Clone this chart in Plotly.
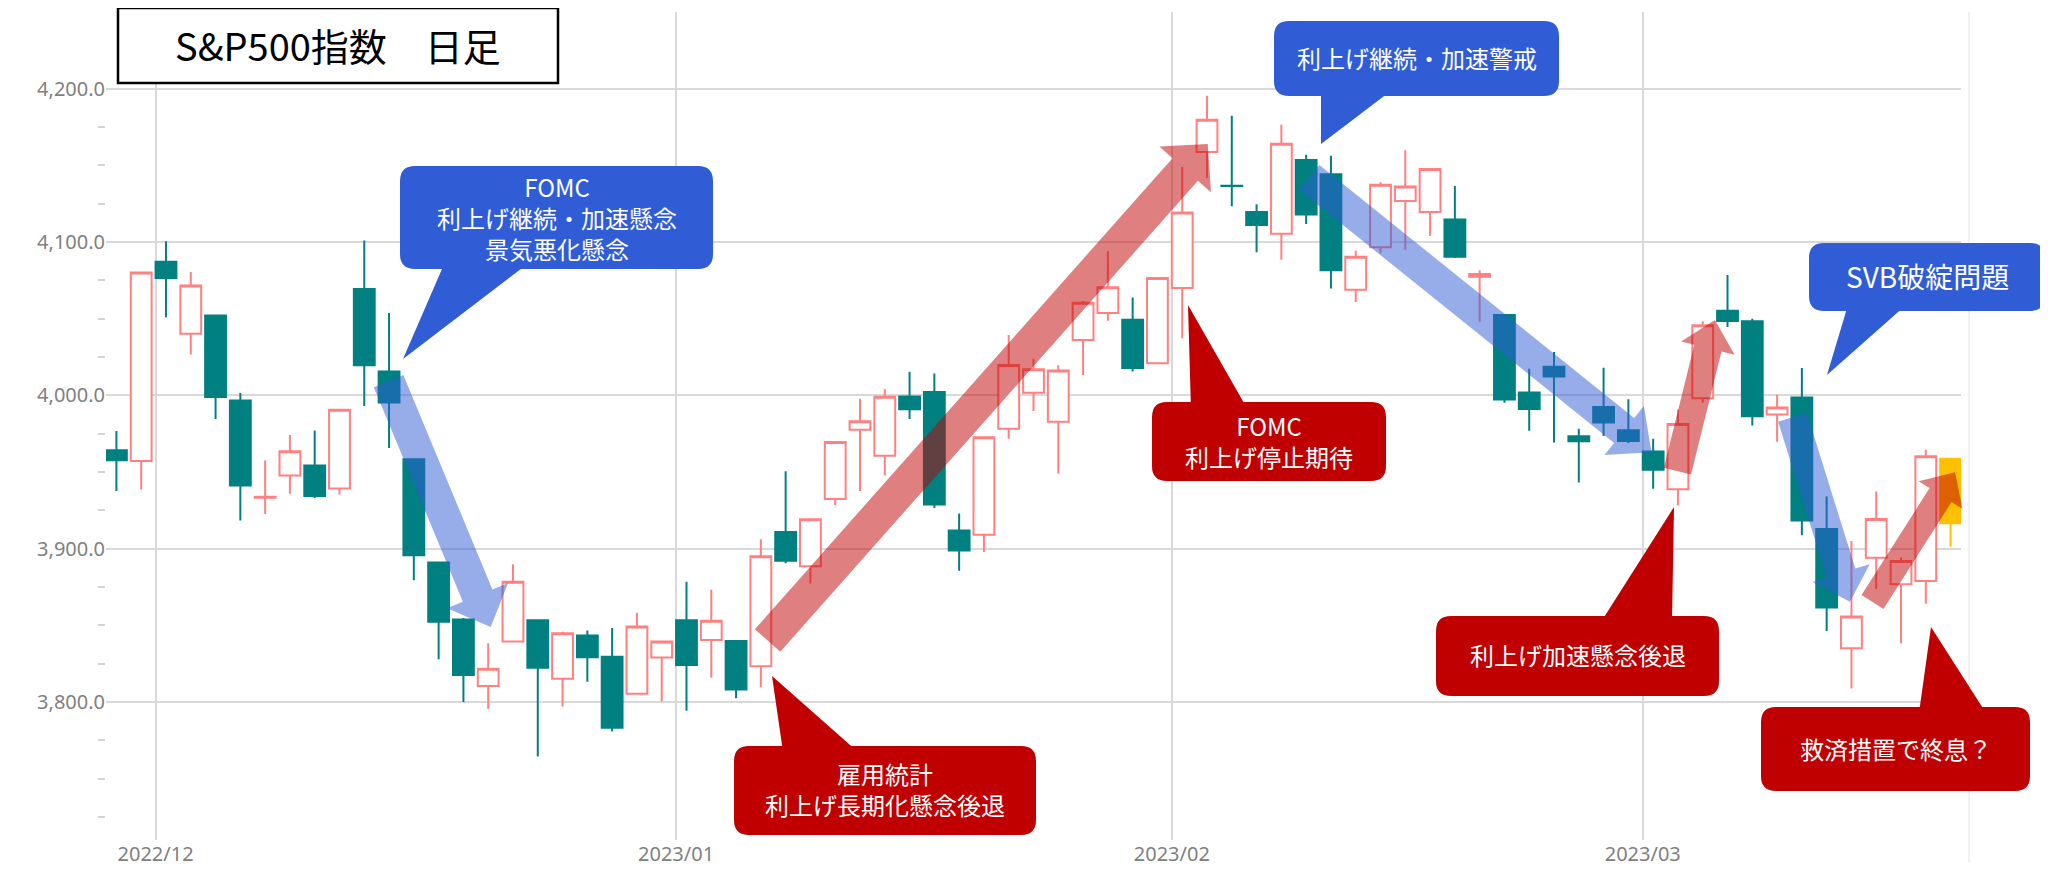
import math
import plotly.graph_objects as go

# ---------------- data (S&P500 daily OHLC) ----------------
dates = [
    "2022-11-29", "2022-11-30",
    "2022-12-01", "2022-12-02", "2022-12-05", "2022-12-06", "2022-12-07", "2022-12-08", "2022-12-09",
    "2022-12-12", "2022-12-13", "2022-12-14", "2022-12-15", "2022-12-16", "2022-12-19", "2022-12-20",
    "2022-12-21", "2022-12-22", "2022-12-23", "2022-12-27", "2022-12-28", "2022-12-29", "2022-12-30",
    "2023-01-03", "2023-01-04", "2023-01-05", "2023-01-06", "2023-01-09", "2023-01-10", "2023-01-11",
    "2023-01-12", "2023-01-13", "2023-01-17", "2023-01-18", "2023-01-19", "2023-01-20", "2023-01-23",
    "2023-01-24", "2023-01-25", "2023-01-26", "2023-01-27", "2023-01-30", "2023-01-31",
    "2023-02-01", "2023-02-02", "2023-02-03", "2023-02-06", "2023-02-07", "2023-02-08", "2023-02-09",
    "2023-02-10", "2023-02-13", "2023-02-14", "2023-02-15", "2023-02-16", "2023-02-17", "2023-02-21",
    "2023-02-22", "2023-02-23", "2023-02-24", "2023-02-27", "2023-02-28",
    "2023-03-01", "2023-03-02", "2023-03-03", "2023-03-06", "2023-03-07", "2023-03-08", "2023-03-09",
    "2023-03-10", "2023-03-13", "2023-03-14", "2023-03-15", "2023-03-16", "2023-03-17",
]
opens = [
    3964.19, 3957.18,
    4087.14, 4040.17, 4052.02, 3996.63, 3933.28, 3947.79, 3954.17,
    3939.29, 4069.38, 4015.54, 3958.37, 3890.91, 3853.79, 3810.47,
    3839.49, 3853.26, 3815.11, 3843.34, 3829.56, 3805.45, 3829.06,
    3853.29, 3840.36, 3839.74, 3823.37, 3910.82, 3888.57, 3932.35,
    3977.57, 3960.60, 3999.28, 4002.25, 3911.84, 3909.04, 3978.14,
    4001.74, 3982.71, 4036.08, 4053.72, 4049.27, 4020.85,
    4070.07, 4158.68, 4136.69, 4119.57, 4105.35, 4153.47, 4144.25,
    4068.92, 4096.62, 4126.70, 4119.50, 4114.75, 4077.39, 4052.35,
    4001.83, 4018.60, 3973.24, 3992.36, 3977.19,
    3963.34, 3938.68, 3998.02, 4055.15, 4048.26, 3987.55, 3998.66,
    3912.77, 3835.12, 3894.01, 3876.74, 3878.93, 3958.69,
]
highs = [
    3976.77, 4080.11,
    4100.51, 4080.48, 4052.45, 4001.51, 3957.57, 3974.19, 3977.02,
    3990.71, 4100.96, 4053.76, 3958.37, 3890.91, 3854.86, 3838.24,
    3889.82, 3853.26, 3845.80, 3846.65, 3848.32, 3858.19, 3839.85,
    3878.46, 3873.16, 3839.74, 3906.19, 3950.57, 3919.83, 3970.07,
    3997.76, 4003.95, 4015.39, 4014.16, 3922.94, 3972.96, 4039.31,
    4023.92, 4019.55, 4061.57, 4094.21, 4063.85, 4077.16,
    4148.95, 4195.44, 4182.36, 4124.63, 4176.54, 4156.85, 4156.23,
    4094.36, 4138.90, 4159.77, 4148.11, 4136.54, 4081.51, 4052.35,
    4017.37, 4028.30, 3978.25, 4018.05, 3997.50,
    3971.73, 3990.84, 4048.29, 4078.49, 4050.00, 4000.41, 4017.81,
    3934.05, 3905.05, 3937.29, 3894.26, 3964.46, 3958.91,
]
lows = [
    3937.65, 3938.58,
    4050.87, 4026.63, 3984.49, 3918.39, 3922.68, 3935.83, 3933.04,
    3935.30, 3993.03, 3965.65, 3879.45, 3827.91, 3800.04, 3795.62,
    3839.49, 3764.49, 3797.01, 3813.22, 3780.78, 3805.45, 3800.34,
    3794.33, 3815.77, 3802.42, 3809.56, 3890.42, 3877.29, 3928.54,
    3937.56, 3947.67, 3984.57, 3926.59, 3885.54, 3897.86, 3971.64,
    3989.79, 3949.06, 4013.29, 4048.70, 4015.55, 4020.44,
    4037.20, 4141.88, 4123.36, 4093.38, 4088.39, 4111.67, 4069.67,
    4060.79, 4092.67, 4095.01, 4103.98, 4089.49, 4047.95, 3995.19,
    3976.90, 3969.19, 3943.08, 3973.55, 3968.98,
    3939.05, 3928.16, 3995.17, 4044.61, 3980.31, 3969.76, 3908.70,
    3846.32, 3808.86, 3873.63, 3838.24, 3864.11, 3901.27,
]
closes = [
    3957.63, 4080.11,
    4076.57, 4071.70, 3998.84, 3941.26, 3933.92, 3963.51, 3934.38,
    3990.56, 4019.65, 3995.32, 3895.75, 3852.36, 3817.66, 3821.62,
    3878.44, 3822.39, 3844.82, 3829.25, 3783.22, 3849.28, 3839.50,
    3824.14, 3852.97, 3808.10, 3895.08, 3892.09, 3919.25, 3969.61,
    3983.17, 3999.09, 3990.97, 3928.86, 3898.85, 3972.61, 4019.81,
    4016.95, 4016.22, 4060.43, 4070.56, 4017.77, 4076.60,
    4119.21, 4179.76, 4136.48, 4111.08, 4164.00, 4117.86, 4081.50,
    4090.46, 4137.29, 4136.13, 4147.60, 4090.41, 4079.09, 3997.34,
    3991.05, 4012.32, 3970.04, 3982.24, 3970.15,
    3951.39, 3981.35, 4045.64, 4048.42, 3986.37, 3992.01, 3918.32,
    3861.59, 3855.76, 3919.29, 3891.93, 3960.28, 3916.64,
]
month_labels = ["2022/12", "2023/01", "2023/02", "2023/03"]
month_keys = ["2022-12", "2023-01", "2023-02", "2023-03"]
y_range = [3710, 4250]
y_minor_ticks = [v for v in range(3725, 4200, 25) if v % 100]

# ---------------- geometry (page pixel coords) ----------------
OFF = 8                      # default page body margin
PL, PT = 106, 12             # plot-area top-left on the page
PW, PH = 1855, 828           # plot-area size
FIG_W, FIG_H = 2048 - OFF, 879 - OFF
ML, MT = PL - OFF, PT - OFF
MR = FIG_W - ML - PW
MB = FIG_H - MT - PH
BOXGAP = 0.16
half = (1 - BOXGAP) / 2
n = len(dates)
x_range = [-half, n - 1 + half]

# month tick positions: left edge of the first candle of each month
tickvals = [dates.index(next(d for d in dates if d.startswith(k))) - half for k in month_keys]


def fx(px):
    return (px - PL) / PW


def fy(py):
    return 1 - (py - PT) / PH


def d2px(xi, v):
    px = PL + (xi - x_range[0]) / (x_range[1] - x_range[0]) * PW
    py = PT + (y_range[1] - v) / (y_range[1] - y_range[0]) * PH
    return px, py


def poly_path(pts):
    return "M " + " L ".join(f"{fx(x):.5f},{fy(y):.5f}" for x, y in pts) + " Z"


def arrow_shape(start, end, shaft, head, head_len, color):
    x0, y0 = d2px(*start)
    x1, y1 = d2px(*end)
    dx, dy = x1 - x0, y1 - y0
    L = math.hypot(dx, dy)
    ux, uy = dx / L, dy / L
    nx, ny = -uy, ux
    bx, by = x1 - ux * head_len, y1 - uy * head_len
    s, h = shaft / 2, head / 2
    pts = [
        (x0 + nx * s, y0 + ny * s),
        (bx + nx * s, by + ny * s),
        (bx + nx * h, by + ny * h),
        (x1, y1),
        (bx - nx * h, by - ny * h),
        (bx - nx * s, by - ny * s),
        (x0 - nx * s, y0 - ny * s),
    ]
    return dict(type="path", xref="paper", yref="paper", path=poly_path(pts),
                fillcolor=color, line=dict(width=0), layer="above")


def rrect_path(x0, y0, x1, y1, r):
    P = lambda x, y: f"{fx(x):.5f},{fy(y):.5f}"
    return (f"M {P(x0 + r, y0)} L {P(x1 - r, y0)} Q {P(x1, y0)} {P(x1, y0 + r)} "
            f"L {P(x1, y1 - r)} Q {P(x1, y1)} {P(x1 - r, y1)} "
            f"L {P(x0 + r, y1)} Q {P(x0, y1)} {P(x0, y1 - r)} "
            f"L {P(x0, y0 + r)} Q {P(x0, y0)} {P(x0 + r, y0)} Z")


BLUE = "#305CD6"
RED = "#C00000"
ARROW_BLUE = "rgba(48,92,214,0.5)"
ARROW_RED = "rgba(192,0,0,0.5)"
FONT = "Noto Sans CJK JP"

# callouts: box (x0, y0, x1, y1) in page px, pointer triangle, text, text centre y, size
callouts = [
    dict(box=(400, 166, 713, 269), tri=[(445, 262), (530, 262), (403, 359)], color=BLUE,
         text="FOMC<br>利上げ継続・加速懸念<br>景気悪化懸念", ty=217, size=24),
    dict(box=(1274, 21, 1559, 96), tri=[(1321, 90), (1392, 90), (1321, 144)], color=BLUE,
         text="利上げ継続・加速警戒", ty=57, size=24),
    dict(box=(1809, 243, 2045, 311), tri=[(1848, 305), (1906, 305), (1827, 375)], color=BLUE,
         text="SVB破綻問題", ty=276, size=28),
    dict(box=(1152, 402, 1386, 481), tri=[(1188, 305), (1191, 410), (1248, 410)], color=RED,
         text="FOMC<br>利上げ停止期待", ty=441, size=24),
    dict(box=(734, 746, 1036, 835), tri=[(772, 676), (783, 752), (858, 752)], color=RED,
         text="雇用統計<br>利上げ長期化懸念後退", ty=789, size=24),
    dict(box=(1436, 616, 1719, 696), tri=[(1674, 507), (1601, 622), (1672, 622)], color=RED,
         text="利上げ加速懸念後退", ty=654, size=24),
    dict(box=(1761, 707, 2030, 791), tri=[(1931, 627), (1919, 713), (1986, 713)], color=RED,
         text="救済措置で終息？", ty=748, size=24),
]

# trend arrows in data coords: (index, price) -> (index, price)
arrows = [
    ((10.98, 4009.3), (15.10, 3848.9), 32, 66, 34, ARROW_BLUE),
    ((26.27, 3840.1), (44.03, 4163.9), 34, 69, 34, ARROW_RED),
    ((48.13, 4142.1), (61.93, 3962.8), 32, 63, 35, ARROW_BLUE),
    ((62.98, 3950.6), (64.49, 4049.1), 28, 55, 29, ARROW_RED),
    ((67.62, 3985.7), (69.94, 3865.4), 30, 60, 30, ARROW_BLUE),
    ((70.85, 3865.2), (74.18, 3949.8), 26, 52, 27, ARROW_RED),
]

fig = go.Figure()
fig.add_trace(go.Candlestick(
    x=dates[:-1], open=opens[:-1], high=highs[:-1], low=lows[:-1], close=closes[:-1],
    increasing=dict(line=dict(color="#FF8080", width=2), fillcolor="white"),
    decreasing=dict(line=dict(color="#008080", width=2), fillcolor="#008080"),
    showlegend=False, name="S&P500",
))
fig.add_trace(go.Candlestick(
    x=dates[-1:], open=opens[-1:], high=highs[-1:], low=lows[-1:], close=closes[-1:],
    increasing=dict(line=dict(color="#FFC000", width=2), fillcolor="#FFC000"),
    decreasing=dict(line=dict(color="#FFC000", width=2), fillcolor="#FFC000"),
    showlegend=False, name="S&P500 (latest)",
))

shapes = []
# faint right border line
shapes.append(dict(type="line", xref="paper", yref="paper", x0=fx(1969), x1=fx(1969),
                   y0=fy(12), y1=fy(862), line=dict(color="#EDEDED", width=1.5), layer="below"))
for a in arrows:
    shapes.append(arrow_shape(*a))
annotations = []
for c in callouts:
    x0, y0, x1, y1 = c["box"]
    shapes.append(dict(type="path", xref="paper", yref="paper", path=rrect_path(x0, y0, x1, y1, 15),
                       fillcolor=c["color"], line=dict(width=0), layer="above"))
    shapes.append(dict(type="path", xref="paper", yref="paper", path=poly_path(c["tri"]),
                       fillcolor=c["color"], line=dict(width=0), layer="above"))
    annotations.append(dict(xref="paper", yref="paper", x=fx((x0 + x1) / 2), y=fy(c["ty"]), text=c["text"],
                            showarrow=False, xanchor="center", yanchor="middle",
                            font=dict(family=FONT, size=c["size"], color="white")))

# title box
shapes.append(dict(type="rect", xref="paper", yref="paper", x0=fx(118), x1=fx(558), y0=fy(8), y1=fy(83),
                   fillcolor="white", line=dict(color="black", width=2.5), layer="above"))
annotations.append(dict(xref="paper", yref="paper", x=fx(338), y=fy(45), text="S&P500指数　日足",
                        showarrow=False, xanchor="center", yanchor="middle",
                        font=dict(family=FONT, size=38, color="black")))

fig.update_layout(
    template="none",
    width=FIG_W, height=FIG_H,
    margin=dict(l=ML, r=MR, t=MT, b=MB, autoexpand=False),
    paper_bgcolor="white", plot_bgcolor="white",
    boxgap=BOXGAP, boxgroupgap=0,
    shapes=shapes, annotations=annotations,
    showlegend=False,
    font=dict(family="Noto Sans", color="#808080"),
    xaxis=dict(
        type="category", range=x_range, rangeslider=dict(visible=False),
        tickmode="array", tickvals=tickvals, ticktext=month_labels,
        showgrid=True, gridcolor="#D9D9D9", gridwidth=2,
        ticks="", showline=False, zeroline=False,
        tickfont=dict(family="Noto Sans", size=20, color="#808080"),
    ),
    yaxis=dict(
        range=y_range, dtick=100, tick0=0, tickformat=",.1f",
        showgrid=True, gridcolor="#D9D9D9", gridwidth=2,
        ticks="", showline=False, zeroline=False,
        tickfont=dict(family="Noto Sans", size=20, color="#808080"),
        minor=dict(tickmode="array", tickvals=y_minor_ticks, ticks="outside", ticklen=7, tickwidth=2,
                   tickcolor="#D4D4D4", showgrid=False),
    ),
)

fig.write_html("out.html")
